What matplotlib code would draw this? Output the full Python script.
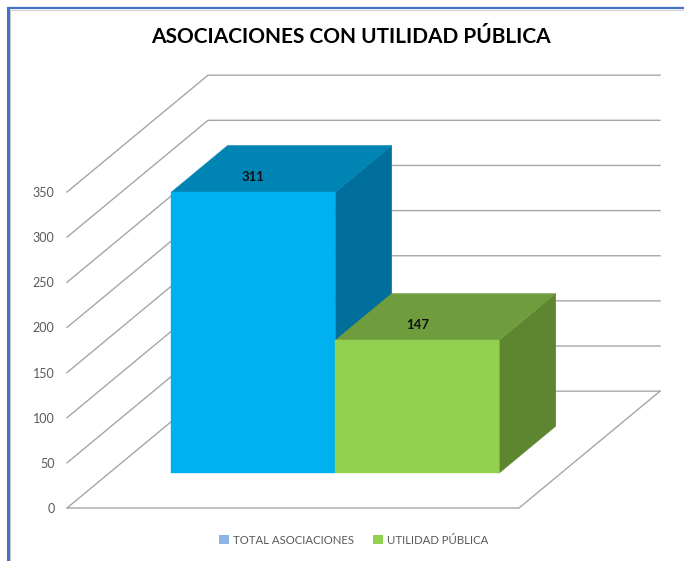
import matplotlib
matplotlib.use("Agg")
import matplotlib.pyplot as plt
from matplotlib.patches import Polygon, Patch
from matplotlib.lines import Line2D
from matplotlib import font_manager as fm

categories = ["TOTAL ASOCIACIONES", "UTILIDAD PÚBLICA"]
values = [311, 147]
y_ticks = [0, 50, 100, 150, 200, 250, 300, 350]
title = "ASOCIACIONES CON UTILIDAD PÚBLICA"

W, H = 684, 561
FONT = "Lato"
names = {f.name for f in fm.fontManager.ttflist}
TITLE_FONT = "Liberation Sans Narrow" if "Liberation Sans Narrow" in names else "Lato"
TITLE_SIZE = 18.5 if TITLE_FONT != "Lato" else 15
front_colors = ["#00B0F0", "#92D050"]
top_colors = ["#0084B4", "#6F9D3D"]
side_colors = ["#006F9C", "#5E8530"]
legend_colors = ["#8DB4E2", "#92D050"]
GRID = "#A6A6A6"

fig = plt.figure(figsize=(W / 100, H / 100), dpi=100, facecolor="white")
ax = fig.add_axes([67 / W, (H - 508) / H, 452 / W, 316 / H])
ax.set_xlim(0, 2)
ax.set_ylim(0, 350)
ax.patch.set_visible(False)
for s in ax.spines.values():
    s.set_visible(False)
ax.set_xticks([])
ax.set_yticks(y_ticks)
ax.tick_params(axis="y", length=0, pad=9, labelsize=9, labelcolor="#595959")
for lb in ax.get_yticklabels():
    lb.set_fontfamily(FONT)

DX, DY = 0.6239, 129.4


def pr(x, y, z):
    return (x + DX * z, y + DY * z)


for v in y_ticks:
    xs, ys = zip(pr(0, v, 0), pr(0, v, 1), pr(2, v, 1))
    ax.plot(xs, ys, color=GRID, lw=1.0, clip_on=False, zorder=1)
xs, ys = zip(pr(0, 0, 0), pr(2, 0, 0), pr(2, 0, 1))
ax.plot(xs, ys, color=GRID, lw=1.0, clip_on=False, zorder=1)

BW = 0.726
Z0, Z1 = 0.3, 0.7
start = 1 - BW
for i, v in enumerate(values):
    x0 = start + i * BW
    x1 = x0 + BW
    faces = [
        ([pr(x1, 0, Z0), pr(x1, 0, Z1), pr(x1, v, Z1), pr(x1, v, Z0)], side_colors[i]),
        ([pr(x0, v, Z0), pr(x1, v, Z0), pr(x1, v, Z1), pr(x0, v, Z1)], top_colors[i]),
        ([pr(x0, 0, Z0), pr(x1, 0, Z0), pr(x1, v, Z0), pr(x0, v, Z0)], front_colors[i]),
    ]
    for pts, c in faces:
        ax.add_patch(Polygon(pts, closed=True, facecolor=c, edgecolor=c, lw=0.3,
                             clip_on=False, zorder=3 + i))
    fx, fy = pr((x0 + x1) / 2, v, Z0)
    ax.annotate(str(v), (fx, fy), xytext=(0, 10.8), textcoords="offset points",
                ha="center", va="center", fontsize=9.5, fontweight="bold",
                fontfamily=FONT, color="#111111", zorder=6, annotation_clip=False)

fig.text(351 / W, 1 - 37 / H, title, ha="center", va="center", fontsize=TITLE_SIZE,
         fontweight="bold", fontfamily=TITLE_FONT, color="black")

handles = [Patch(facecolor=c, edgecolor="none") for c in legend_colors]
fig.legend(handles, categories, loc="center", bbox_to_anchor=(354 / W, 1 - 540 / H),
           ncol=2, frameon=False, prop={"family": FONT, "size": 8.2},
           labelcolor="#595959", handlelength=0.85, handleheight=0.85,
           handletextpad=0.35, columnspacing=1.7, borderpad=0)

border = "#4472C4"
fig.add_artist(Line2D([8 / W, 8 / W], [0, 1 - 8 / H], color=border, lw=2.2, solid_capstyle="butt"))
fig.add_artist(Line2D([7 / W, 1], [1 - 8 / H, 1 - 8 / H], color=border, lw=1.6, solid_capstyle="butt"))
fig.add_artist(Line2D([10 / W, 1], [1 - 9.8 / H, 1 - 9.8 / H], color="#D0D0D0", lw=0.7))
fig.add_artist(Line2D([10 / W, 10 / W], [0, 1 - 10 / H], color="#C8C8C8", lw=0.7))

fig.savefig("out.png", dpi=100, facecolor="white")
